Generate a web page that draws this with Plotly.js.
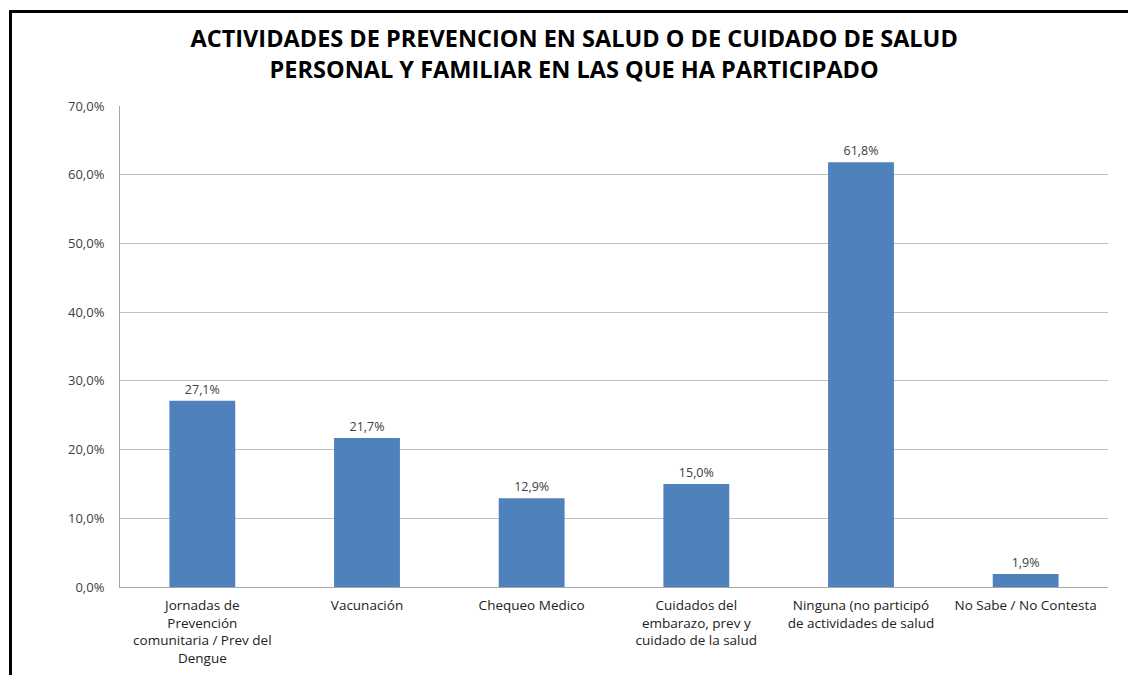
<!DOCTYPE html>
<html>
<head>
<meta charset="utf-8">
<script src="https://cdn.plot.ly/plotly-3.0.1.min.js"></script>
<style>
  html, body { margin: 0; padding: 0; background: #fff; }
  #frame { position: absolute; left: 9px; top: 10px; width: 1119px; height: 665px; border-top: 3px solid #000; border-left: 3px solid #000; box-sizing: border-box; pointer-events: none; z-index: 5; }
  #chart { width: 1128px; height: 675px; }
</style>
</head>
<body>
<div id="frame"></div>
<div id="chart"></div>
<script>
const categories = [
  "Jornadas de<br>Prevención<br>comunitaria / Prev del<br>Dengue",
  "Vacunación",
  "Chequeo Medico",
  "Cuidados del<br>embarazo, prev y<br>cuidado de la salud",
  "Ninguna (no participó<br>de actividades de salud",
  "No Sabe / No Contesta"
];
const values = [27.1, 21.7, 12.9, 15.0, 61.8, 1.9];
const yTickValues = [0, 10, 20, 30, 40, 50, 60, 70];
const yTickLabels = ["0,0%", "10,0%", "20,0%", "30,0%", "40,0%", "50,0%", "60,0%", "70,0%"];

const trace = {
  type: 'bar',
  x: categories,
  y: values,
  marker: { color: '#4F81BD' },
  texttemplate: '%{y:.1f}%',
  textposition: 'outside',
  textfont: { family: 'Open Sans, Noto Sans, sans-serif', size: 12.5, color: '#404040' },
  cliponaxis: false,
  hoverinfo: 'x+y'
};

const layout = {
  width: 1128,
  height: 675,
  separators: ',.',
  margin: { l: 120, r: 20, t: 106, b: 88 },
  paper_bgcolor: '#ffffff',
  plot_bgcolor: '#ffffff',
  bargap: 0.6,
  showlegend: false,
  title: {
    text: '<b>ACTIVIDADES DE PREVENCION EN SALUD O DE CUIDADO DE SALUD<br>PERSONAL Y FAMILIAR EN LAS QUE HA PARTICIPADO</b>',
    font: { family: 'Open Sans, Noto Sans, sans-serif', size: 23.5, color: '#000' },
    x: 0.509,
    xanchor: 'center',
    y: 0.93,
    yanchor: 'top'
  },
  xaxis: {
    type: 'category',
    showgrid: false,
    showline: true,
    linecolor: '#a6a6a6',
    linewidth: 1,
    ticks: '',
    ticklabelstandoff: 6,
    tickfont: { family: 'Open Sans, Noto Sans, sans-serif', size: 13.5, color: '#222' },
    automargin: false
  },
  yaxis: {
    range: [0, 70],
    tickvals: yTickValues,
    ticktext: yTickLabels,
    showgrid: true,
    gridcolor: '#c0c0c0',
    gridwidth: 1,
    showline: true,
    linecolor: '#a6a6a6',
    linewidth: 1,
    zeroline: false,
    ticks: '',
    ticklabelstandoff: 12,
    tickfont: { family: 'Open Sans, Noto Sans, sans-serif', size: 13, color: '#404040' },
    automargin: false
  }
};

Plotly.newPlot('chart', [trace], layout, { displayModeBar: false, staticPlot: true });
</script>
</body>
</html>
